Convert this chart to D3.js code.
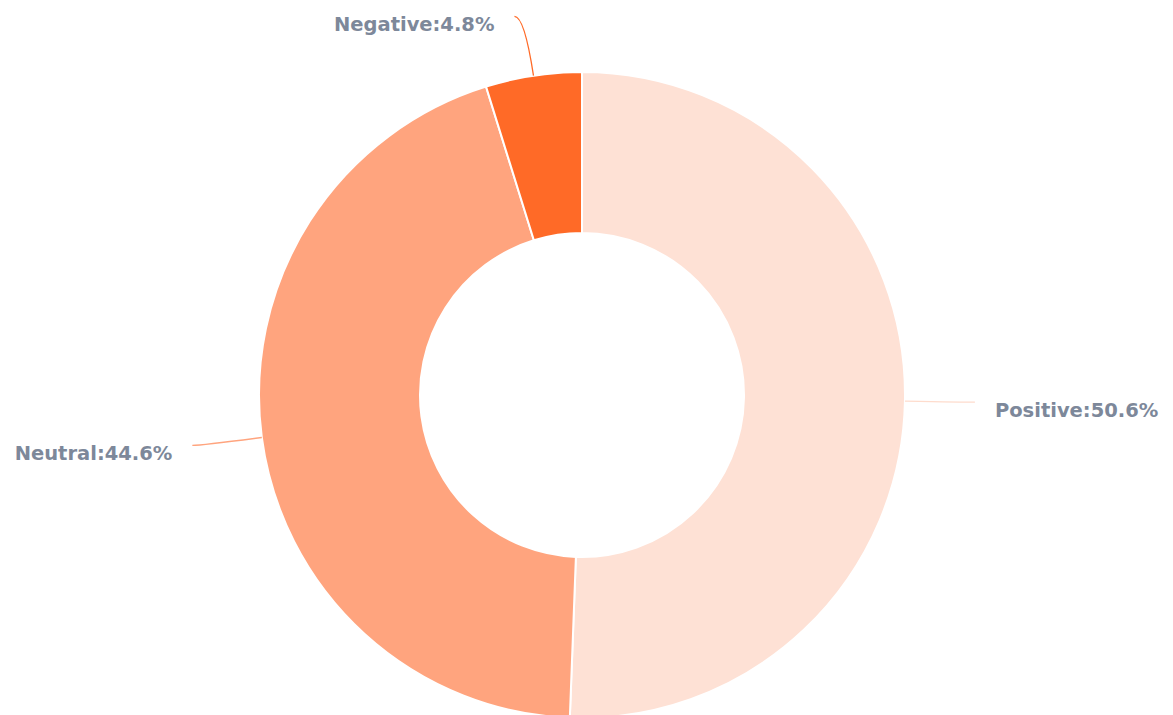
<!DOCTYPE html>
<html><head><meta charset="utf-8">
<script src="https://cdn.jsdelivr.net/npm/d3@7"></script>
<style>html,body{margin:0;padding:0;background:#fff;overflow:hidden}</style>
</head><body>
<svg id="chart" width="1173" height="715"></svg>
<script>
const categories = ["Positive", "Neutral", "Negative"];
const values = [50.6, 44.6, 4.8];
const colors = ["#FEE1D5", "#FFA47E", "#FF6A27"];

const W = 1173, H = 715;
const cx = 582, cy = 395, rOuter = 323, rInner = 162;
const svg = d3.select("#chart");
const g = svg.append("g").attr("transform", `translate(${cx},${cy})`);

const data = categories.map((c, i) => ({ name: c, value: values[i], color: colors[i] }));
const pie = d3.pie().value(d => d.value).sort(null);
const arcs = pie(data);
const arc = d3.arc().innerRadius(rInner).outerRadius(rOuter);

g.selectAll("path.slice").data(arcs).join("path")
  .attr("class", "slice")
  .attr("d", arc)
  .attr("fill", d => d.data.color)
  .attr("stroke", "#fff").attr("stroke-width", 2);

const len1 = 60, len2 = 10, gap = 20;
arcs.forEach(a => {
  const mid = (a.startAngle + a.endAngle) / 2;
  const s = Math.sin(mid), c = -Math.cos(mid);
  const p0 = [rOuter * s, rOuter * c];
  const p1 = [(rOuter + len1) * s, (rOuter + len1) * c];
  const dir = s >= 0 ? 1 : -1;
  const p2 = [p1[0] + dir * len2, p1[1]];
  g.append("path")
    .attr("d", `M${p0[0]},${p0[1]} Q${p1[0]},${p1[1]} ${p2[0]},${p2[1]}`)
    .attr("fill", "none")
    .attr("stroke", a.data.color === "#FEE1D5" ? "#FEDCCD" : a.data.color)
    .attr("stroke-width", 1.3);
  g.append("text")
    .attr("x", p2[0] + dir * gap)
    .attr("y", p2[1] + 8)
    .attr("dy", "0.35em")
    .attr("text-anchor", dir > 0 ? "start" : "end")
    .attr("font-family", "'DejaVu Sans', sans-serif")
    .attr("font-weight", "bold")
    .attr("font-size", 19.5)
    .attr("fill", "#7D889A")
    .text(`${a.data.name}:${a.data.value}%`);
});
</script>
</body></html>
